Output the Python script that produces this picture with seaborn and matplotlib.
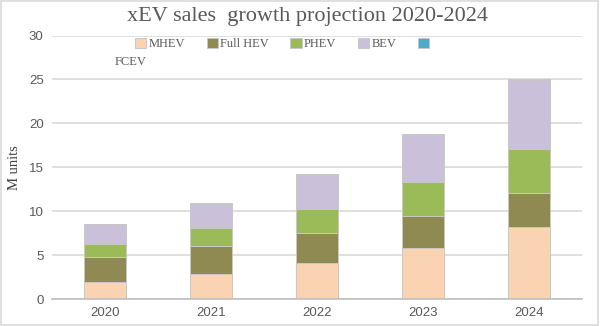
import matplotlib
matplotlib.use('Agg')
import matplotlib.pyplot as plt
import seaborn as sns
import pandas as pd
import numpy as np
from matplotlib.patches import Rectangle

years = ['2020', '2021', '2022', '2023', '2024']
mhev = [1.9, 2.85, 4.07, 5.85, 8.16]
full_hev = [2.92, 3.15, 3.41, 3.60, 3.91]
phev = [1.48, 2.09, 2.77, 3.84, 5.05]
bev = [2.20, 2.76, 3.91, 5.42, 7.76]
fcev = [0.02, 0.03, 0.05, 0.10, 0.12]
series_names = ['MHEV', 'Full HEV', 'PHEV', 'BEV', 'FCEV']
colors = ['#FAD3B3', '#8F8A52', '#9BBB59', '#CBC0DA', '#4BACC6']
y_ticks = [0, 5, 10, 15, 20, 25, 30]

sns.set_style('white')
plt.rcParams['font.family'] = ['Liberation Serif', 'DejaVu Serif']

df = pd.DataFrame({'year': years, 'MHEV': mhev, 'Full HEV': full_hev,
                   'PHEV': phev, 'BEV': bev, 'FCEV': fcev})

fig = plt.figure(figsize=(6.0, 3.26), dpi=100)
ax = fig.add_axes([52/600, 1 - 299/326, 530/600, (299 - 35.5)/326])

bottom = np.zeros(len(years))
for name, col in zip(series_names, colors):
    sns.barplot(data=df, x='year', y=name, color=col, saturation=1, width=0.4,
                bottom=bottom, edgecolor='#C8C8C8', linewidth=0.7, ax=ax, zorder=3)
    bottom = bottom + df[name].values

ax.set_ylim(0, 30)
ax.set_xlim(-0.5, 4.5)
ax.set_yticks(y_ticks)
ax.yaxis.grid(True, color='#D9D9D9', linewidth=1.2, zorder=0)
ax.set_axisbelow(True)
for s in ['left', 'right', 'top']:
    ax.spines[s].set_visible(False)
ax.spines['bottom'].set_color('#BFBFBF')
ax.spines['bottom'].set_linewidth(1.2)
ax.spines['bottom'].set_zorder(4)
ax.tick_params(axis='both', length=0, colors='#595959', labelsize=9.5, pad=6)
for lab in ax.get_xticklabels() + ax.get_yticklabels():
    lab.set_fontfamily(['Liberation Sans', 'DejaVu Sans'])
ax.set_xlabel('')
ax.set_ylabel('M units', fontsize=10.5, color='#404040')
ax.yaxis.set_label_coords(-31/530, 0.5)

fig.text(0.512, 1 - 17/326, 'xEV sales  growth projection 2020-2024',
         ha='center', va='center', fontsize=16, color='#595959')

handles = [ax.containers[i].patches[0] for i in range(5)]
labels = ['MHEV', 'Full HEV', 'PHEV', 'BEV', '']
leg = fig.legend(handles, labels, ncol=5, loc='center left',
                 bbox_to_anchor=(135/600, 1 - 44/326), frameon=False,
                 fontsize=9, handlelength=0.9, handleheight=0.9,
                 handletextpad=0.2, columnspacing=1.7, borderpad=0, borderaxespad=0)
for t in leg.get_texts():
    t.set_color('#595959')
fig.text(115/600, 1 - 62/326, 'FCEV', ha='left', va='center', fontsize=9, color='#595959')

fig.add_artist(Rectangle((0.001, 0.002), 0.996, 0.995, transform=fig.transFigure,
                         fill=False, edgecolor='#D9D9D9', linewidth=1.2))

fig.savefig('out.png', dpi=100)
